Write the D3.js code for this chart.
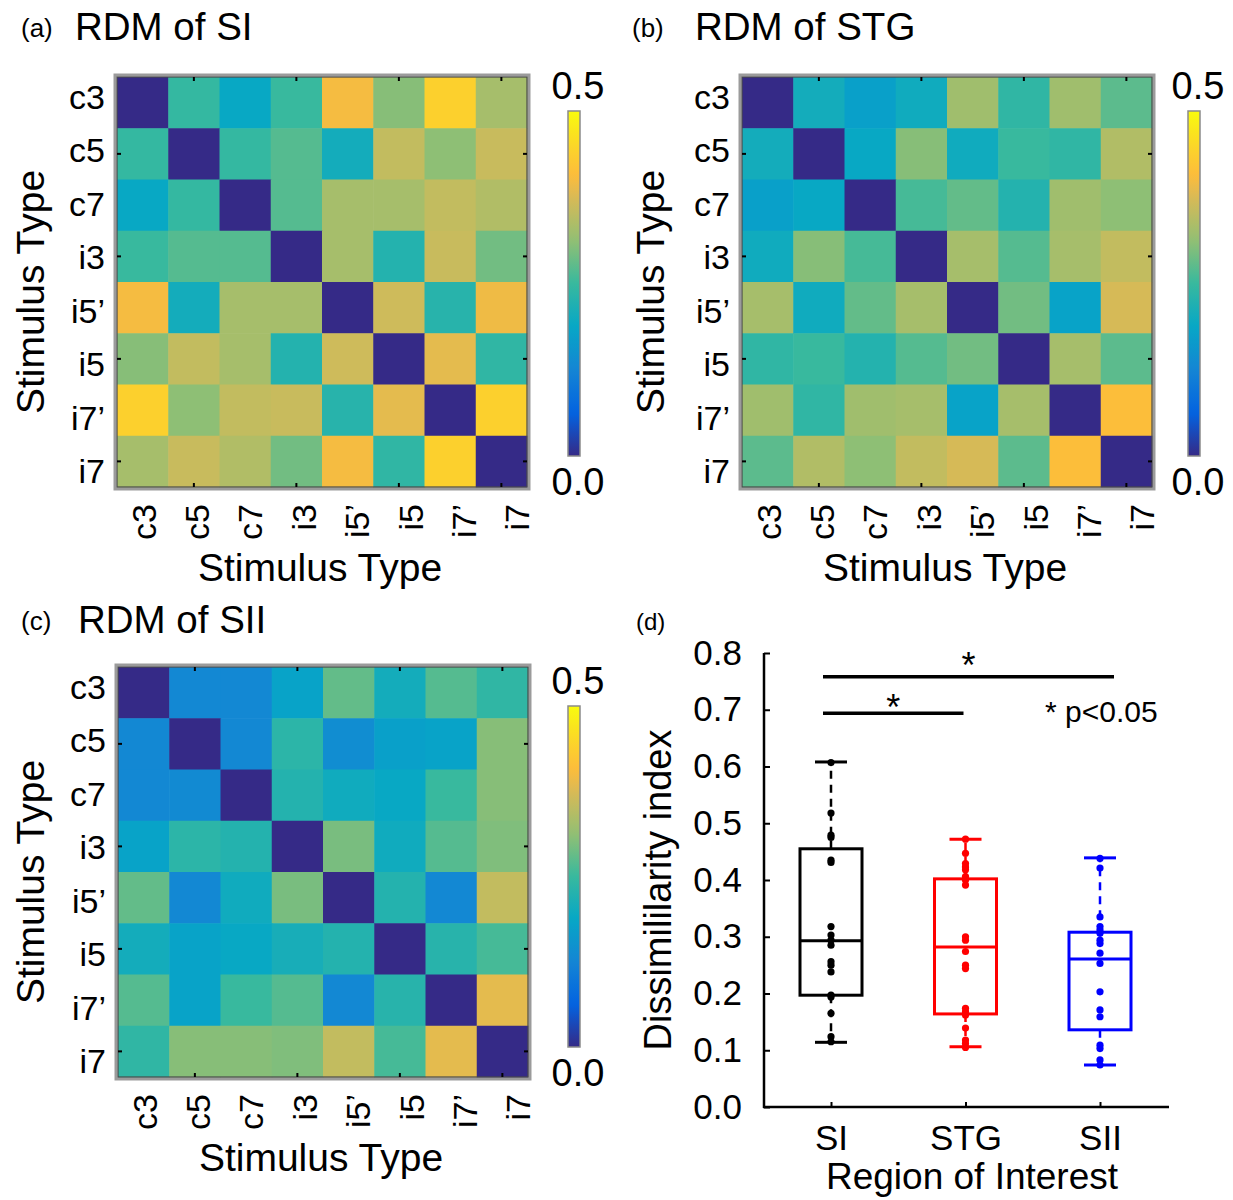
<!DOCTYPE html>
<html><head><meta charset="utf-8">
<script src="https://cdn.jsdelivr.net/npm/d3@7"></script>
<style>body{margin:0;background:#fff}svg{display:block;font-family:"Liberation Sans",Arial,Helvetica,sans-serif}</style>
</head><body>
<svg id="c" width="1233" height="1200"></svg>
<script>
// ---------------- DATA ----------------
const categories = ["c3","c5","c7","i3","i5’","i5","i7’","i7"];

const rdmSI = [
  [0,     0.245, 0.19,  0.25,  0.40,  0.305, 0.44,  0.33 ],
  [0.245, 0,     0.245, 0.27,  0.205, 0.355, 0.31,  0.36 ],
  [0.19,  0.245, 0,     0.27,  0.33,  0.33,  0.355, 0.34 ],
  [0.25,  0.27,  0.27,  0,     0.33,  0.225, 0.36,  0.29 ],
  [0.40,  0.205, 0.33,  0.33,  0,     0.365, 0.23,  0.395],
  [0.305, 0.355, 0.33,  0.225, 0.365, 0,     0.385, 0.24 ],
  [0.44,  0.31,  0.355, 0.36,  0.23,  0.385, 0,     0.44 ],
  [0.33,  0.36,  0.34,  0.29,  0.40,  0.24,  0.44,  0    ]
];
const rdmSTG = [
  [0,     0.205, 0.175, 0.20,  0.325, 0.24,  0.325, 0.275],
  [0.205, 0,     0.19,  0.305, 0.20,  0.25,  0.24,  0.34 ],
  [0.175, 0.19,  0,     0.26,  0.28,  0.225, 0.325, 0.31 ],
  [0.20,  0.305, 0.26,  0,     0.33,  0.27,  0.33,  0.355],
  [0.33,  0.20,  0.28,  0.33,  0,     0.29,  0.18,  0.372],
  [0.24,  0.25,  0.225, 0.27,  0.29,  0,     0.33,  0.275],
  [0.325, 0.24,  0.325, 0.33,  0.18,  0.33,  0,     0.41 ],
  [0.275, 0.34,  0.31,  0.355, 0.372, 0.275, 0.41,  0    ]
];
const rdmSII = [
  [0,     0.13,  0.13,  0.18,  0.28,  0.205, 0.27,  0.24 ],
  [0.13,  0,     0.13,  0.235, 0.14,  0.175, 0.18,  0.305],
  [0.13,  0.135, 0,     0.225, 0.20,  0.19,  0.25,  0.305],
  [0.18,  0.235, 0.225, 0,     0.295, 0.20,  0.27,  0.30 ],
  [0.28,  0.13,  0.20,  0.295, 0,     0.225, 0.13,  0.355],
  [0.205, 0.18,  0.19,  0.21,  0.225, 0,     0.23,  0.26 ],
  [0.27,  0.18,  0.25,  0.27,  0.13,  0.23,  0,     0.385],
  [0.24,  0.305, 0.305, 0.30,  0.355, 0.26,  0.385, 0    ]
];
const colorbarTicks = [0.0, 0.5];

const regions = ["SI","STG","SII"];
const whiskerHigh = [0.608, 0.472, 0.439];
const q3 = [0.455, 0.402, 0.308];
const medians = [0.293, 0.282, 0.261];
const q1 = [0.197, 0.164, 0.136];
const whiskerLow = [0.114, 0.106, 0.074];
const pointsSI = [0.607,0.518,0.479,0.475,0.435,0.431,0.318,0.303,0.294,0.285,0.256,0.250,0.238,0.197,0.194,0.165,0.124,0.115];
const pointsSTG = [0.472,0.447,0.429,0.423,0.418,0.406,0.400,0.391,0.300,0.294,0.274,0.250,0.244,0.174,0.168,0.162,0.139,0.118,0.112,0.105];
const pointsSII = [0.438,0.421,0.335,0.318,0.312,0.306,0.294,0.288,0.271,0.253,0.203,0.171,0.159,0.109,0.103,0.083,0.074];
const yTicks = [0.0,0.1,0.2,0.3,0.4,0.5,0.6,0.7,0.8];
const comparisons = [
  {a:"SI", b:"SII", y:0.758, label:"*"},
  {a:"SI", b:"STG", y:0.694, label:"*"}
];

// ---------------- STYLE ----------------
const svg = d3.select("#c");
const parulaPos = [0,0.125,0.25,0.375,0.5,0.625,0.75,0.8125,0.875,1];
const parulaCols = ["#352a87","#0363e1","#1485d4","#06a7c6","#38b99e","#92bf73","#d9ba56","#fcbc3c","#fcce2e","#f9fb0e"];
const color = d3.scaleLinear().domain(parulaPos.map(p => p*0.5)).range(parulaCols)
  .interpolate(d3.interpolateRgb).clamp(true);

const defs = svg.append("defs");
const grad = defs.append("linearGradient").attr("id","parula").attr("x1",0).attr("y1",1).attr("x2",0).attr("y2",0);
d3.range(0,1.0001,0.02).forEach(t => grad.append("stop").attr("offset",t).attr("stop-color",color(t*0.5)));

function drawRDM(matrix, o){
  const g = svg.append("g");
  const size = 410;
  const x = d3.scaleBand().domain(categories).range([o.hx, o.hx+size]);
  const y = d3.scaleBand().domain(categories).range([o.hy, o.hy+size]);
  const xl = d3.scaleBand().domain(categories).range([o.hx, o.hx+427]);
  const yl = d3.scaleBand().domain(categories).range([o.hy-7, o.hy+421]);

  matrix.forEach((row,i) => row.forEach((v,j) => {
    g.append("rect").attr("x",x(categories[j])).attr("y",y(categories[i]))
      .attr("width",x.bandwidth()+0.6).attr("height",y.bandwidth()+0.6)
      .attr("fill",color(v));
  }));
  g.append("rect").attr("x",o.hx-2).attr("y",o.hy-2).attr("width",size+4).attr("height",size+4)
    .attr("fill","none").attr("stroke","#9b9b9b").attr("stroke-width",3);
  g.append("rect").attr("x",o.hx).attr("y",o.hy).attr("width",size).attr("height",size)
    .attr("fill","none").attr("stroke","#4a4a4a").attr("stroke-width",1.2);
  categories.forEach((c,k) => {
    if (k%2===1){
      const cx = x(c)+x.bandwidth()/2, cy = y(c)+y.bandwidth()/2;
      g.append("line").attr("x1",cx).attr("x2",cx).attr("y1",o.hy).attr("y2",o.hy+4).attr("stroke","#000").attr("stroke-width",2);
      g.append("line").attr("x1",cx).attr("x2",cx).attr("y1",o.hy+size).attr("y2",o.hy+size-4).attr("stroke","#000").attr("stroke-width",2);
      g.append("line").attr("x1",o.hx).attr("x2",o.hx+4).attr("y1",cy).attr("y2",cy).attr("stroke","#000").attr("stroke-width",2);
      g.append("line").attr("x1",o.hx+size).attr("x2",o.hx+size-4).attr("y1",cy).attr("y2",cy).attr("stroke","#000").attr("stroke-width",2);
    }
  });
  categories.forEach(c => {
    g.append("text").attr("x",o.hx-12).attr("y",yl(c)+yl.bandwidth()/2)
      .attr("text-anchor","end").attr("dominant-baseline","central")
      .attr("font-size",34).text(c);
  });
  categories.forEach(c => {
    const cx = xl(c)+xl.bandwidth()/2, cy = o.hy+size+17;
    g.append("text").attr("transform",`translate(${cx},${cy}) rotate(-90)`)
      .attr("text-anchor","end").attr("dominant-baseline","central")
      .attr("font-size",34).text(c);
  });
  g.append("text").attr("x",o.hx+203).attr("y",o.hy+size+94).attr("text-anchor","middle")
    .attr("font-size",39).text("Stimulus Type");
  g.append("text").attr("transform",`translate(${o.ytx},${o.hy+215}) rotate(-90)`)
    .attr("text-anchor","middle").attr("dominant-baseline","central")
    .attr("font-size",39).text("Stimulus Type");
  g.append("text").attr("x",o.lx).attr("y",o.ty).attr("font-size",26).text(o.letter);
  g.append("text").attr("x",o.tx).attr("y",o.ty+3).attr("font-size",38.5).text(o.title);

  const cb = d3.scaleLinear().domain([0,0.5]).range([o.cb1, o.cb0]);
  g.append("rect").attr("x",o.cbx).attr("y",o.cb0).attr("width",12).attr("height",o.cb1-o.cb0)
    .attr("fill","url(#parula)").attr("stroke","#8a8a8a").attr("stroke-width",1.5);
  colorbarTicks.forEach(v => {
    g.append("text").attr("x",o.cbx+10).attr("y",cb(v)+(v>0?-25:26))
      .attr("text-anchor","middle").attr("dominant-baseline","central")
      .attr("font-size",38).text(d3.format(".1f")(v));
  });
}

drawRDM(rdmSI,  {hx:117, hy:77,  ytx:30,  lx:21,  tx:75,  ty:37,  letter:"(a)", title:"RDM of SI",  cbx:568,  cb0:111, cb1:456});
drawRDM(rdmSTG, {hx:742, hy:77,  ytx:650, lx:632, tx:695, ty:37,  letter:"(b)", title:"RDM of STG", cbx:1188, cb0:111, cb1:456});
drawRDM(rdmSII, {hx:118, hy:667, ytx:30,  lx:21,  tx:78,  ty:630, letter:"(c)", title:"RDM of SII", cbx:568,  cb0:706, cb1:1047});

// ---------------- PANEL D ----------------
const gd = svg.append("g");
const yD = d3.scaleLinear().domain([0,0.8]).range([1107,653]);
const xD = d3.scalePoint().domain(regions).range([831,1100]);
const boxColors = ["#000000","#ff0000","#0000ff"];
const points = [pointsSI, pointsSTG, pointsSII];

gd.append("text").attr("x",636).attr("y",630).attr("font-size",24).text("(d)");

const yAxis = d3.axisLeft(yD).tickValues(yTicks).tickFormat(d3.format(".1f")).tickSize(-6).tickSizeOuter(0).tickPadding(22);
const ya = gd.append("g").attr("transform","translate(764,0)").call(yAxis);
ya.select(".domain").remove();
ya.selectAll("line").attr("stroke-width",2);
ya.selectAll("text").attr("font-size",35).attr("font-family","inherit");
gd.append("line").attr("x1",764).attr("x2",764).attr("y1",653).attr("y2",1108).attr("stroke","#000").attr("stroke-width",2.5);
gd.append("line").attr("x1",763).attr("x2",1169).attr("y1",1107).attr("y2",1107).attr("stroke","#000").attr("stroke-width",2.5);

const xAxis = d3.axisBottom(xD).tickSize(-5).tickSizeOuter(0).tickPadding(18);
const xa = gd.append("g").attr("transform","translate(0,1107)").call(xAxis);
xa.select(".domain").remove();
xa.selectAll("line").attr("stroke-width",2);
xa.selectAll("text").attr("font-size",35).attr("font-family","inherit");

gd.append("text").attr("x",972).attr("y",1189).attr("text-anchor","middle").attr("font-size",37).text("Region of Interest");
gd.append("text").attr("transform","translate(658,890) rotate(-90)").attr("text-anchor","middle")
  .attr("dominant-baseline","central").attr("font-size",38).text("Dissimililarity index");

regions.forEach((r,i) => {
  const cx = xD(r), c = boxColors[i];
  gd.append("line").attr("x1",cx).attr("x2",cx).attr("y1",yD(q3[i])).attr("y2",yD(whiskerHigh[i]))
    .attr("stroke",c).attr("stroke-width",2.5).attr("stroke-dasharray","8,6");
  gd.append("line").attr("x1",cx).attr("x2",cx).attr("y1",yD(q1[i])).attr("y2",yD(whiskerLow[i]))
    .attr("stroke",c).attr("stroke-width",2.5).attr("stroke-dasharray","8,6");
  [whiskerHigh[i], whiskerLow[i]].forEach(v => {
    gd.append("line").attr("x1",cx-16).attr("x2",cx+16).attr("y1",yD(v)).attr("y2",yD(v))
      .attr("stroke",c).attr("stroke-width",3);
  });
  gd.append("rect").attr("x",cx-31).attr("width",62).attr("y",yD(q3[i])).attr("height",yD(q1[i])-yD(q3[i]))
    .attr("fill","none").attr("stroke",c).attr("stroke-width",3);
  gd.append("line").attr("x1",cx-31).attr("x2",cx+31).attr("y1",yD(medians[i])).attr("y2",yD(medians[i]))
    .attr("stroke",c).attr("stroke-width",3);
  points[i].forEach(v => {
    gd.append("circle").attr("cx",cx).attr("cy",yD(v)).attr("r",3.6).attr("fill",c);
  });
});

comparisons.forEach((cmp,k) => {
  const x1 = xD(cmp.a) - 8;
  const x2 = cmp.b === "SII" ? xD(cmp.b) + 14 : xD(cmp.b) - 2;
  const yy = yD(cmp.y);
  gd.append("line").attr("x1",x1).attr("x2",x2).attr("y1",yy).attr("y2",yy).attr("stroke","#000").attr("stroke-width",3.5);
  gd.append("text").attr("x",(x1+x2)/2).attr("y",yy + (k===0?1:7)).attr("text-anchor","middle")
    .attr("font-size",36).text(cmp.label);
});
gd.append("text").attr("x",1045).attr("y",722).attr("font-size",30).text("* p<0.05");
</script>
</body></html>
